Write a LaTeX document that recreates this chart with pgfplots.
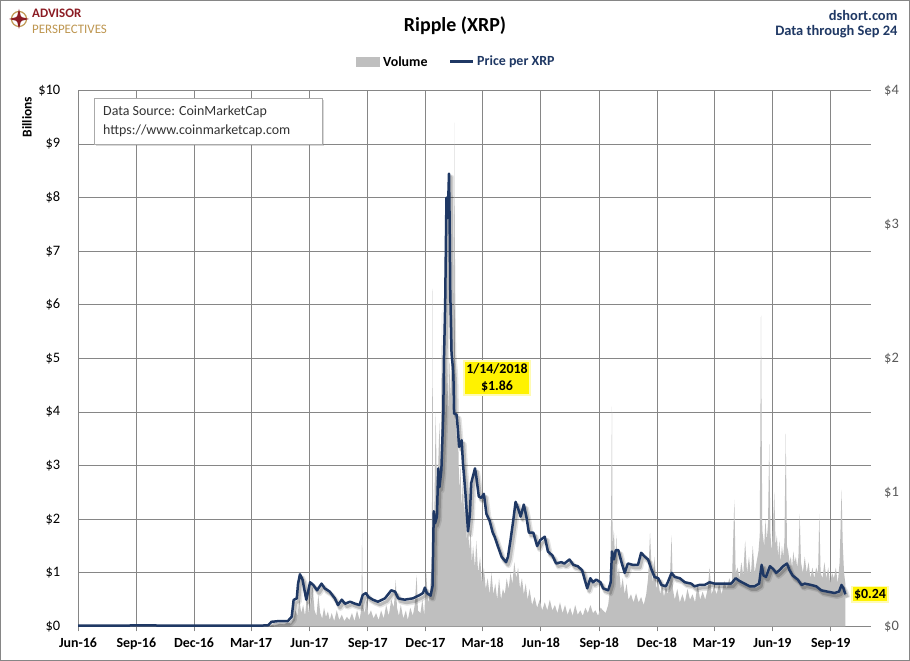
\documentclass[border=0pt]{standalone}
\usepackage{fontspec}
\setmainfont{Carlito}
\usepackage{pgfplots}
\usepackage{pgfplotstable}
\pgfplotsset{compat=1.18}
\usetikzlibrary{shadows}
\definecolor{navy}{RGB}{31,56,100}
\definecolor{volgray}{RGB}{191,191,191}
\definecolor{gridgray}{RGB}{134,134,134}
\definecolor{apred}{RGB}{140,28,36}
\definecolor{apgold}{RGB}{190,150,80}
\definecolor{labgray}{RGB}{89,89,89}

\pgfplotstableread{
day vol
0 0.002
60 0.002
120 0.002
180 0.002
240 0.003
290 0.005
300 0.01
305 0.03
310 0.02
318 0.05
325 0.04
331 0.08
336 0.05
340 0.15
343 0.30
346 0.20
349 0.50
352 0.25
355 0.40
358 0.20
361 0.55
364 0.25
367 0.45
370 0.74
373 0.30
376 0.20
379 0.59
382 0.25
385 0.15
388 0.35
391 0.18
394 0.28
397 0.12
400 0.25
404 0.10
408 0.30
412 0.12
416 0.22
420 0.10
424 0.18
428 0.12
432 0.25
436 0.10
440 0.30
444 0.12
447 0.35
448 1.77
449 0.40
452 0.25
455 0.50
458 0.20
462 0.30
466 0.15
470 0.25
474 0.12
478 0.30
482 0.15
486 0.40
490 0.20
494 0.50
498 0.35
501 0.87
503 0.35
506 0.20
509 0.40
513 0.15
517 0.30
520 0.12
524 0.35
528 0.20
531 0.40
534 0.96
536 0.30
540 0.25
543 0.50
546 0.20
549 1.00
552 0.45
555 0.60
558 1.30
559 6.3
560 1.5
562 2.2
564 4.0
566 2.5
568 3.0
570 3.8
572 2.8
574 5.9
575 3.5
577 4.2
579 5.5
580 3.8
582 4.8
584 4.0
586 5.0
588 4.2
590 6.0
591 4.0
593 4.5
594 9.4
595 4.0
597 3.5
599 4.0
601 2.5
603 3.0
605 2.2
607 2.8
609 2.0
611 3.0
613 1.6
615 1.9
617 1.4
619 1.8
621 1.2
623 1.5
626 1.1
628 1.6
631 1.0
634 1.3
637 0.8
640 1.1
643 0.7
646 0.9
649 0.6
652 1.0
655 0.6
658 0.8
661 0.5
664 0.9
667 0.5
670 0.7
673 0.6
676 0.9
679 0.7
682 1.0
685 0.8
688 1.2
691 0.9
694 1.1
697 0.7
700 0.9
703 0.6
706 0.8
709 0.5
712 0.7
716 0.4
720 0.55
724 0.35
728 0.5
732 0.3
736 0.45
740 0.3
744 0.5
748 0.3
752 0.4
756 0.25
760 0.45
764 0.25
768 0.4
772 0.22
776 0.35
780 0.2
784 0.4
788 0.22
792 0.3
796 0.2
800 0.35
804 0.25
808 0.4
812 0.25
816 0.3
820 0.2
824 0.35
828 0.3
832 0.25
836 0.4
838 0.6
840 1.2
842 4.1
843 1.5
845 1.8
847 1.2
849 1.7
851 0.9
853 1.1
856 0.7
859 0.9
862 0.6
865 0.8
868 0.5
872 0.6
876 0.45
880 0.62
884 0.45
888 0.55
892 0.4
896 0.6
899 0.9
902 1.74
904 1.2
906 0.8
909 1.3
912 0.7
915 0.85
918 0.6
921 0.8
924 0.55
927 0.75
930 0.6
933 0.8
936 1.7
938 0.7
941 0.5
945 0.7
949 0.45
953 0.6
957 0.45
961 0.7
965 0.5
969 0.6
973 0.45
977 0.8
981 0.5
985 0.65
989 0.5
993 0.7
996 1.1
999 0.6
1003 0.75
1007 0.6
1011 0.8
1015 0.6
1019 0.85
1023 0.7
1027 0.9
1031 0.75
1035 2.36
1037 1.0
1040 1.1
1043 0.9
1046 1.2
1049 0.95
1052 1.6
1055 1.0
1058 1.3
1061 0.95
1064 1.5
1067 1.0
1070 1.2
1073 1.4
1075 1.7
1077 5.8
1079 1.8
1082 1.5
1084 2.0
1086 1.6
1088 1.9
1090 3.4
1092 1.7
1094 1.4
1096 1.9
1098 2.5
1100 1.5
1102 1.7
1104 1.3
1106 1.6
1108 1.2
1110 1.5
1112 1.3
1114 1.6
1116 3.6
1118 1.5
1120 1.4
1122 1.2
1124 1.3
1126 1.1
1128 1.4
1130 1.2
1132 1.3
1134 1.1
1136 1.3
1138 2.1
1140 1.2
1143 1.0
1146 1.3
1149 1.0
1152 1.2
1155 0.9
1158 1.1
1161 0.9
1164 1.1
1167 1.0
1169 2.1
1171 1.0
1174 0.9
1177 1.2
1180 0.9
1183 1.1
1186 0.8
1189 1.0
1192 0.9
1195 1.1
1198 0.8
1201 1.2
1204 2.55
1206 1.5
1208 1.0
1210 0.8
}\voltable

\pgfplotstableread{
day price
0 0.0065
30 0.0060
60 0.0065
90 0.0078
100 0.0090
120 0.0075
150 0.0070
180 0.0065
210 0.0065
240 0.0070
270 0.0065
290 0.0070
300 0.009
305 0.035
318 0.041
331 0.041
337 0.073
340 0.198
345 0.21
347 0.32
350 0.39
354 0.35
358 0.25
360 0.20
366 0.33
371 0.31
377 0.27
384 0.32
389 0.285
397 0.26
405 0.21
410 0.16
416 0.20
421 0.17
429 0.185
437 0.17
444 0.16
449 0.235
454 0.25
458 0.22
465 0.20
473 0.185
484 0.21
494 0.27
500 0.26
505 0.21
515 0.20
528 0.21
539 0.235
544 0.25
547 0.29
550 0.25
556 0.23
559 0.30
561 0.86
563 0.77
566 0.82
568 1.18
570 1.04
573 1.17
575 1.45
576 1.59
577 2.0
578 2.19
579 2.41
581 3.20
583 3.05
585 3.38
586 3.03
587 2.5
589 2.04
591 1.94
592 1.86
593 1.59
597 1.58
599 1.47
601 1.34
605 1.39
607 1.22
611 0.99
615 0.71
618 0.84
620 1.07
626 1.18
628 1.12
632 0.97
636 0.96
640 0.99
644 0.84
649 0.79
654 0.70
657 0.67
662 0.60
668 0.52
675 0.48
678 0.52
682 0.645
686 0.78
690 0.93
694 0.88
698 0.82
703 0.91
707 0.82
711 0.70
718 0.70
724 0.60
729 0.645
736 0.67
741 0.56
748 0.53
754 0.47
762 0.48
767 0.47
775 0.50
781 0.46
788 0.45
795 0.42
799 0.35
803 0.285
808 0.36
812 0.33
817 0.35
824 0.33
828 0.285
836 0.27
840 0.33
842 0.56
845 0.50
848 0.57
852 0.57
857 0.48
862 0.40
867 0.47
875 0.46
883 0.46
888 0.55
894 0.52
899 0.50
904 0.43
909 0.37
915 0.36
920 0.31
927 0.30
930 0.33
936 0.40
941 0.37
949 0.36
957 0.33
967 0.32
972 0.30
980 0.31
988 0.31
996 0.33
1004 0.32
1012 0.32
1022 0.32
1030 0.32
1037 0.36
1043 0.34
1051 0.32
1059 0.30
1067 0.30
1074 0.32
1078 0.46
1081 0.38
1085 0.37
1091 0.45
1096 0.43
1101 0.40
1106 0.42
1112 0.45
1118 0.47
1122 0.42
1127 0.38
1135 0.35
1141 0.31
1146 0.32
1156 0.31
1164 0.30
1172 0.27
1182 0.26
1193 0.25
1200 0.26
1204 0.31
1207 0.285
1210 0.24
}\pricetable

\begin{document}
\begin{tikzpicture}[x=1bp,y=1bp]
\useasboundingbox (0,0) rectangle (910,661);
\fill[white] (0,0) rectangle (910,661);

\begin{axis}[
  at={(78bp,34.5bp)}, anchor=south west, scale only axis,
  width=792.7bp, height=536bp,
  xmin=0, xmax=1250, ymin=0, ymax=10,
  axis line style={draw=none},
  xtick={0,92,183,273,365,457,548,638,730,822,913,1003,1095,1187},
  xticklabels={Jun-16,Sep-16,Dec-16,Mar-17,Jun-17,Sep-17,Dec-17,Mar-18,Jun-18,Sep-18,Dec-18,Mar-19,Jun-19,Sep-19},
  ytick={0,1,2,3,4,5,6,7,8,9,10},
  yticklabels={\$0,\$1,\$2,\$3,\$4,\$5,\$6,\$7,\$8,\$9,\$10},
  xtick pos=bottom, ytick pos=left, tick align=outside,
  xtick style={gridgray, line width=1bp, /pgfplots/major tick length=5bp},
  ytick style={draw=none, /pgfplots/major tick length=0bp},
  grid=major, grid style={gridgray, line width=1bp},
  xticklabel style={font=\fontsize{14}{16}\selectfont\bfseries, text=black, yshift=-4bp},
  yticklabel style={font=\fontsize{14.5}{16}\selectfont, text=black, xshift=-10bp},
]
\addplot[fill=volgray, draw=none] table[x=day,y=vol]{\voltable} \closedcycle;
\end{axis}

\begin{axis}[
  at={(78bp,34.5bp)}, anchor=south west, scale only axis,
  width=792.7bp, height=536bp,
  xmin=0, xmax=1250, ymin=0, ymax=4,
  axis line style={draw=none},
  xtick=\empty,
  ytick={0,1,2,3,4},
  yticklabels={\$0,\$1,\$2,\$3,\$4},
  ytick pos=right, yticklabel pos=right,
  major tick length=0bp,
  ytick style={draw=none},
  yticklabel style={font=\fontsize{14.5}{16}\selectfont, text=labgray, xshift=10bp},
]
\addplot[black, opacity=0.10, line width=5bp, line join=round, xshift=2.5bp, yshift=-3.5bp] table[x=day,y=price]{\pricetable};
\addplot[black, opacity=0.18, line width=3bp, line join=round, xshift=2bp, yshift=-3bp] table[x=day,y=price]{\pricetable};
\addplot[navy, line width=2.5bp, line join=round] table[x=day,y=price]{\pricetable};
\end{axis}

% frame
\draw[gridgray, line width=1bp] (0.5,0.5) rectangle (909.5,660.5);

% title and headers
\node[font=\fontsize{20}{24}\selectfont\bfseries, text=black] at (455,635) {Ripple (XRP)};
\node[anchor=east, font=\fontsize{14.5}{17}\selectfont\bfseries, text=navy] at (901,646) {dshort.com};
\node[anchor=east, font=\fontsize{14.5}{17}\selectfont\bfseries, text=navy] at (901,629) {Data through Sep 24};

% logo
\draw[apgold, line width=1.2bp] (19,642) circle (7.5);
\fill[apred] (19,652) -- (21,644) -- (29,642) -- (21,640) -- (19,632) -- (17,640) -- (9,642) -- (17,644) -- cycle;
\fill[apred] (19,642) circle (3.5);
\node[anchor=west, inner sep=0pt, font=\fontsize{13}{14}\selectfont\bfseries, text=apred] at (32,647.5) {ADVISOR};
\node[anchor=west, inner sep=0pt, font=\fontsize{13}{14}\selectfont, text=apgold] at (32,632) {PERSPECTIVES};

% legend
\fill[volgray] (356,594) rectangle (380,604);
\node[anchor=west, inner sep=0pt, font=\fontsize{14}{16}\selectfont\bfseries, text=black] at (383,599.3) {Volume};
\draw[navy, line width=2.5bp] (450,599.3) -- (473,599.3);
\node[anchor=west, inner sep=0pt, font=\fontsize{14}{16}\selectfont\bfseries, text=navy] at (477,599.3) {Price per XRP};

% Billions
\node[rotate=90, font=\fontsize{13.5}{16}\selectfont\bfseries, text=black] at (27,544) {Billions};

% data source box
\draw[gridgray!70, fill=white, drop shadow={shadow xshift=2bp, shadow yshift=-2bp, opacity=0.3}] (94,517) rectangle (322,563);
\node[anchor=west, inner sep=0pt, font=\fontsize{14}{16}\selectfont, text=black!80] at (103,549) {Data Source: CoinMarketCap};
\node[anchor=west, inner sep=0pt, font=\fontsize{14}{16}\selectfont, text=black!80] at (103,530) {https://www.coinmarketcap.com};

% annotations
\fill[yellow!30] (463,265) rectangle (531,301);
\fill[yellow] (465,267) rectangle (529,299);
\node[align=center, font=\fontsize{14}{17}\selectfont\bfseries, text=black] at (497,283) {1/14/2018\\\$1.86};
\fill[yellow!30] (851,58) rectangle (889,75);
\fill[yellow] (853,59.5) rectangle (887,73.5);
\node[font=\fontsize{14}{16}\selectfont\bfseries, text=black] at (870,66.5) {\$0.24};
\end{tikzpicture}
\end{document}
